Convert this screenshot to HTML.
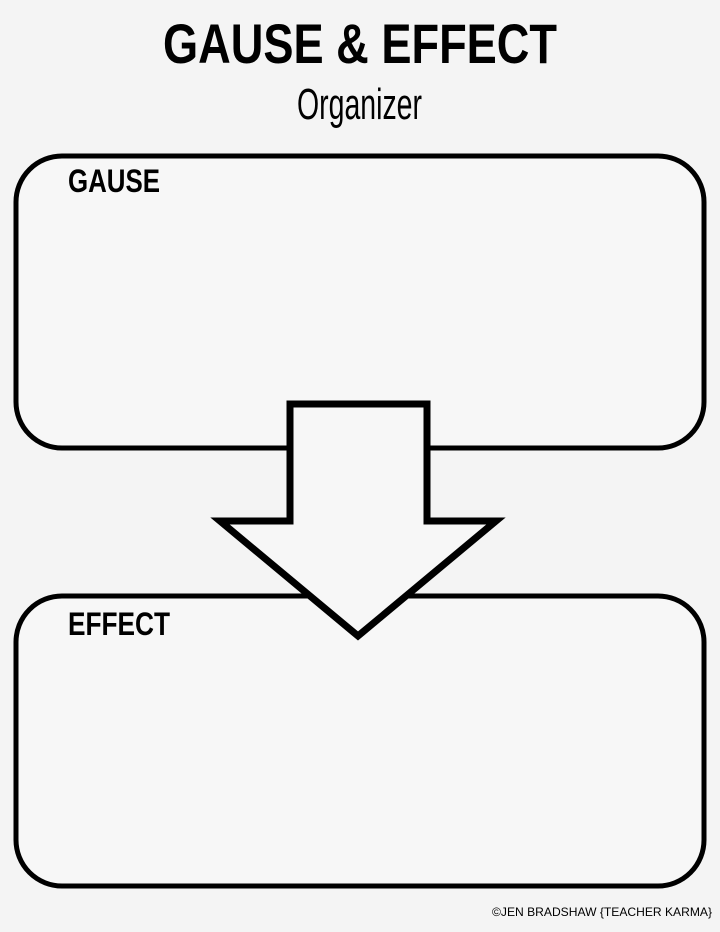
<!DOCTYPE html>
<html><head><meta charset="utf-8"><style>
html,body{margin:0;padding:0;background:#f4f4f4;}
body{width:720px;height:932px;position:relative;overflow:hidden;}
text{font-family:"Liberation Sans",sans-serif;fill:#000;}
</style></head><body>
<svg width="720" height="932" style="position:absolute;left:0;top:0">
<rect x="16" y="156" width="688" height="292" rx="46" ry="46" fill="#f7f7f7" stroke="#000" stroke-width="5"/>
<rect x="16" y="596" width="688" height="290" rx="46" ry="46" fill="#f7f7f7" stroke="#000" stroke-width="5"/>
<polygon points="290,404 427,404 427,521 496,521 358,636 220,521 290,521" fill="#f7f7f7" stroke="#000" stroke-width="7" stroke-linejoin="miter"/>
<text x="163" y="63" font-size="56" font-weight="bold" textLength="394" lengthAdjust="spacingAndGlyphs">GAUSE &amp; EFFECT</text>
<text x="297" y="119" font-size="44" textLength="125" lengthAdjust="spacingAndGlyphs">Organizer</text>
<text x="68" y="192" font-size="32" font-weight="bold" textLength="92" lengthAdjust="spacingAndGlyphs">GAUSE</text>
<text x="68" y="635" font-size="32" font-weight="bold" textLength="102" lengthAdjust="spacingAndGlyphs">EFFECT</text>
<text x="492" y="916" font-size="12" textLength="220" lengthAdjust="spacingAndGlyphs">©JEN BRADSHAW {TEACHER KARMA}</text>
</svg>
</body></html>
